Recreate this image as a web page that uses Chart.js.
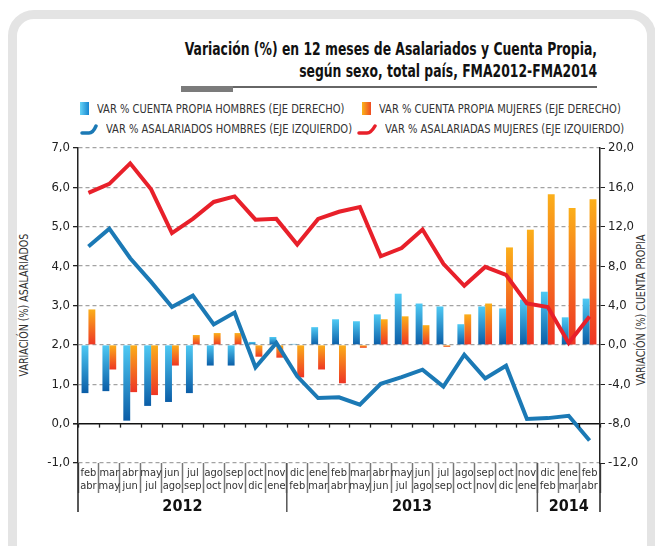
<!DOCTYPE html>
<html>
<head>
<meta charset="utf-8">
<script src="https://cdn.jsdelivr.net/npm/chart.js@4.4.1/dist/chart.umd.min.js"></script>
<style>
  body { margin: 0; width: 655px; height: 546px; overflow: hidden; background: #fff; position: relative;
         font-family: "Liberation Sans Narrow", "DejaVu Sans Condensed", sans-serif; color: #222; }
  .frame { position: absolute; left: 8px; top: 10px; width: 630px; height: 600px; border: 9px solid #e4e4e4; border-radius: 26px; }
  .title { position: absolute; right: 58px; top: 38px; text-align: right; font-weight: bold; font-size: 17px; line-height: 22px;
           color: #111; white-space: nowrap; transform: scaleX(0.81); transform-origin: right top; }
  .rule { position: absolute; left: 181px; top: 86px; width: 416px; height: 1.5px; background: #666; }
  .rule-block { position: absolute; left: 181px; top: 86px; width: 52px; height: 6px; background: #7b7b7b; }
  .legend-item { position: absolute; display: flex; align-items: center; font-size: 13px; color: #333; white-space: nowrap; }
  .legend-item .icon { margin-right: 8px; }
  .legend-item span { display: inline-block; transform: scaleX(0.85); transform-origin: left center; }
  .ytitle { position: absolute; font-size: 11.5px; color: #333; white-space: nowrap; transform: translate(-50%, -50%) rotate(-90deg) scaleX(0.92); }
  #wrap { position: absolute; left: 0; top: 130px; width: 655px; height: 395px; }
</style>
</head>
<body>
<div class="frame"></div>
<div class="title">Variación (%) en 12 meses de Asalariados y Cuenta Propia,<br>según sexo, total país, FMA2012-FMA2014</div>
<div class="rule"></div>
<div class="rule-block"></div>
<div id="legend"></div>
<div class="ytitle" style="left:24px; top:305px;">VARIACIÓN (%) ASALARIADOS</div>
<div class="ytitle" style="left:641px; top:310px;">VARIACIÓN (%) CUENTA PROPIA</div>
<div id="wrap"><canvas id="chart"></canvas></div>
<script>
// Data
const categories = [
  ["feb", "abr"], ["mar", "may"], ["abr", "jun"], ["may", "jul"], ["jun", "ago"],
  ["jul", "sep"], ["ago", "oct"], ["sep", "nov"], ["oct", "dic"], ["nov", "ene"],
  ["dic", "feb"], ["ene", "mar"], ["feb", "abr"], ["mar", "may"], ["abr", "jun"],
  ["may", "jul"], ["jun", "ago"], ["jul", "sep"], ["ago", "oct"], ["sep", "nov"],
  ["oct", "dic"], ["nov", "ene"],
  ["dic", "feb"], ["ene", "mar"], ["feb", "abr"]
];
const years = ["2012", "2013", "2014"];
const yearFirstIndex = [0, 10, 22];

const cuentaPropiaHombres = [-4.9, -4.7, -7.7, -6.2, -5.8, -4.9, -2.1, -2.1, 0.3, 0.8,
  0.1, 1.8, 2.6, 2.4, 3.1, 5.2, 4.2, 3.9, 2.1, 3.9, 3.7, 4.6, 5.4, 2.8, 4.7];
const cuentaPropiaMujeres = [3.6, -2.5, -4.8, -5.1, -2.1, 1.0, 1.2, 1.2, -1.2, -1.3,
  -3.3, -2.5, -3.9, -0.3, 2.6, 2.9, 2.0, -0.2, 3.1, 4.2, 9.9, 11.7, 15.3, 13.9, 14.8];
const asalariadosHombres = [4.5, 4.95, 4.2, 3.6, 2.96, 3.25, 2.52, 2.82, 1.43, 2.05,
  1.2, 0.65, 0.67, 0.48, 1.01, 1.18, 1.37, 0.94, 1.75, 1.15, 1.47, 0.12, 0.14, 0.2, -0.43];
const asalariadasMujeres = [5.86, 6.09, 6.61, 5.95, 4.84, 5.2, 5.63, 5.77, 5.18, 5.2,
  4.55, 5.2, 5.38, 5.5, 4.25, 4.46, 4.93, 4.06, 3.5, 3.98, 3.78, 3.05, 2.96, 2.05, 2.72];

const seriesNames = [
  "VAR % CUENTA PROPIA HOMBRES (EJE DERECHO)",
  "VAR % CUENTA PROPIA MUJERES (EJE DERECHO)",
  "VAR % ASALARIADOS HOMBRES (EJE IZQUIERDO)",
  "VAR % ASALARIADAS MUJERES (EJE IZQUIERDO)"
];

const FONT = '"Liberation Sans Narrow", "DejaVu Sans Condensed", sans-serif';

// Legend
const legendSpots = [[80, 101], [362, 101], [80, 121], [357, 121]];
const legendIcons = [
  '<div class="icon" style="width:9px;height:13px;background:linear-gradient(to right,#66d4f7,#1785cf)"></div>',
  '<div class="icon" style="width:9px;height:13px;background:linear-gradient(to right,#fbb41a,#ee4a22)"></div>',
  '<svg class="icon" width="18" height="12"><path d="M2 10 L9 10 Q13 10 16 3" stroke="#1b79b5" stroke-width="3.5" fill="none" stroke-linecap="round"/></svg>',
  '<svg class="icon" width="20" height="12"><path d="M2 10 L10 10 Q14 10 18 3" stroke="#e8202a" stroke-width="3.5" fill="none" stroke-linecap="round"/></svg>'
];
const legend = document.getElementById("legend");
seriesNames.forEach((name, i) => {
  const el = document.createElement("div");
  el.className = "legend-item";
  el.style.left = legendSpots[i][0] + "px";
  el.style.top = legendSpots[i][1] + "px";
  el.innerHTML = legendIcons[i] + "<span>" + name + "</span>";
  legend.appendChild(el);
});

// Per-bar vertical gradient
function barFill(light, dark) {
  return ctx => {
    const chart = ctx.chart;
    if (!chart.chartArea || ctx.raw === undefined) return light;
    const s = chart.scales.y1;
    const a = s.getPixelForValue(0), b = s.getPixelForValue(ctx.raw);
    const top = Math.min(a, b), bot = Math.max(a, b) + 0.5;
    const g = chart.ctx.createLinearGradient(0, top, 0, bot);
    g.addColorStop(0, light);
    g.addColorStop(1, dark);
    return g;
  };
}

const fmt = v => v.toFixed(1).replace(".", ",");

// Extra axis furniture: ticks on zero line, long separators, year labels
const axisExtras = {
  id: "axisExtras",
  afterDraw(chart) {
    const c = chart.ctx, x = chart.scales.x, y = chart.scales.y, area = chart.chartArea;
    const y0 = y.getPixelForValue(0);
    c.save();
    c.strokeStyle = "#222";
    c.lineWidth = 1.3;
    for (let k = 0; k <= categories.length; k++) {
      const px = Math.round(x.getPixelForValue(k - 0.5)) + 0.5;
      c.beginPath(); c.moveTo(px, y0); c.lineTo(px, y0 + 4); c.stroke();
    }
    c.lineWidth = 1.5;
    const bottom = area.bottom + 49;
    const longLines = [x.getPixelForValue(-0.5), x.getPixelForValue(categories.length - 0.5)];
    yearFirstIndex.slice(1).forEach(i => longLines.push(x.getPixelForValue(i - 0.5)));
    longLines.forEach((px, j) => {
      c.strokeStyle = j < 2 ? "#222" : "#555";
      c.beginPath(); c.moveTo(px, area.bottom); c.lineTo(px, bottom); c.stroke();
    });
    c.fillStyle = "#111";
    c.font = "bold 16px " + FONT;
    c.textAlign = "center";
    c.textBaseline = "middle";
    years.forEach((yr, j) => {
      const first = yearFirstIndex[j];
      const last = j + 1 < yearFirstIndex.length ? yearFirstIndex[j + 1] - 1 : categories.length - 1;
      const px = (x.getPixelForValue(first - 0.5) + x.getPixelForValue(last + 0.5)) / 2;
      c.fillText(yr, px, area.bottom + 44);
    });
    c.restore();
  }
};

new Chart(document.getElementById("chart"), {
  type: "bar",
  data: {
    labels: categories,
    datasets: [
      {
        type: "line", label: seriesNames[2], data: asalariadosHombres, yAxisID: "y",
        borderColor: "#1b79b5", borderWidth: 4, pointRadius: 0, tension: 0, order: 0
      },
      {
        type: "line", label: seriesNames[3], data: asalariadasMujeres, yAxisID: "y",
        borderColor: "#e8202a", borderWidth: 4, pointRadius: 0, tension: 0, order: 0
      },
      {
        label: seriesNames[0], data: cuentaPropiaHombres, yAxisID: "y1",
        backgroundColor: barFill("#4fcaf4", "#0a5ca6"), order: 1,
        categoryPercentage: 0.66, barPercentage: 1.0
      },
      {
        label: seriesNames[1], data: cuentaPropiaMujeres, yAxisID: "y1",
        backgroundColor: barFill("#fbaf1a", "#ee3424"), order: 1,
        categoryPercentage: 0.66, barPercentage: 1.0
      }
    ]
  },
  options: {
    responsive: true,
    maintainAspectRatio: false,
    animation: false,
    layout: { padding: { top: 18, bottom: 12, left: 0, right: 0 } },
    plugins: { legend: { display: false }, tooltip: { enabled: false } },
    scales: {
      x: {
        offset: true,
        afterFit: s => { s.height = 50; },
        grid: { offset: true, drawOnChartArea: false, drawTicks: true, tickLength: 30, tickColor: "#777", tickWidth: 1.5 },
        border: { display: false },
        ticks: { autoSkip: false, maxRotation: 0, padding: -26, color: "#333",
                 font: { family: FONT, size: 11, lineHeight: 1.15 } }
      },
      y: {
        position: "left",
        min: -1, max: 7,
        afterFit: s => { s.width = 78; },
        ticks: { stepSize: 1, padding: 3, color: "#222", font: { family: FONT, size: 13 }, callback: fmt },
        grid: {
          color: ctx => ctx.tick && ctx.tick.value === 0 ? "#111" : "#a3a3a3",
          lineWidth: ctx => ctx.tick && ctx.tick.value === 0 ? 1.6 : 1.3,
          tickLength: 5, tickColor: "#222"
        },
        border: { display: true, color: "#222", width: 1.5,
                  dash: ctx => ctx.tick && ctx.tick.value === 0 ? [] : [4, 3] }
      },
      y1: {
        position: "right",
        min: -12, max: 20,
        afterFit: s => { s.width = 55; },
        ticks: { stepSize: 4, padding: 3, color: "#222", font: { family: FONT, size: 13 }, callback: fmt },
        grid: { drawOnChartArea: false, tickLength: 5, tickColor: "#222" },
        border: { display: true, color: "#222", width: 1.5 }
      }
    }
  },
  plugins: [axisExtras]
});
</script>
</body>
</html>
